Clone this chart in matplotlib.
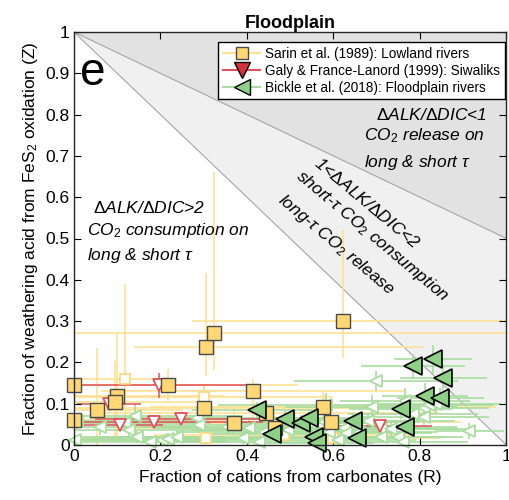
import matplotlib
matplotlib.use("Agg")
import matplotlib.pyplot as plt
from matplotlib.lines import Line2D
import numpy as np

plt.rcParams['font.family'] = ['Liberation Sans', 'DejaVu Sans']
plt.rcParams['mathtext.fontset'] = 'custom'
plt.rcParams['mathtext.rm'] = 'Liberation Sans'
plt.rcParams['mathtext.it'] = 'Liberation Sans:italic'

# Sarin et al. (1989), filled squares
sarin_R = [0.0, 0.0, 0.053, 0.10, 0.095, 0.218, 0.30, 0.306, 0.323, 0.622, 0.413, 0.371, 0.445, 0.464, 0.575, 0.594]
sarin_Z = [0.145, 0.06, 0.085, 0.119, 0.104, 0.145, 0.09, 0.237, 0.272, 0.30, 0.131, 0.053, 0.078, 0.041, 0.093, 0.056]
sarin_Rlo = [0.0, 0.0, 0.053, 0.10, 0.095, 0.22, 0.30, 0.166, 0.323, 0.35, 0.35, 0.37, 0.40, 0.35, 0.40, 0.30]
sarin_Rhi = [0.30, 0.35, 0.20, 0.25, 0.20, 0.30, 0.35, 0.50, 0.68, 0.38, 0.35, 0.35, 0.40, 0.35, 0.40, 0.30]
sarin_Zlo = [0.145, 0.05, 0.085, 0.10, 0.10, 0.04, 0.055, 0.07, 0.09, 0.09, 0.131, 0.04, 0.03, 0.03, 0.04, 0.03]
sarin_Zhi = [0.48, 0.05, 0.15, 0.15, 0.10, 0.04, 0.055, 0.18, 0.39, 0.22, 0.03, 0.04, 0.03, 0.03, 0.04, 0.03]

# Sarin et al. (1989), open squares
sarin2_R = [0.118, 0.30, 0.306, 0.598, 0.485]
sarin2_Z = [0.16, 0.116, 0.017, 0.017, 0.024]
sarin2_Rerr = [0.12, 0.30, 0.30, 0.25, 0.30]
sarin2_Zlo = [0.10, 0.03, 0.015, 0.015, 0.02]
sarin2_Zhi = [0.23, 0.03, 0.015, 0.015, 0.02]

# Galy & France-Lanord (1999)
galy_R = [0.081, 0.197, 0.107, 0.186, 0.248, 0.708]
galy_Z = [0.10, 0.145, 0.048, 0.056, 0.063, 0.046]
galy_Rlo = [0.075, 0.20, 0.10, 0.186, 0.20, 0.12]
galy_Rhi = [0.075, 0.20, 0.10, 0.25, 0.20, 0.12]
galy_Zerr = [0.015, 0.03, 0.01, 0.01, 0.01, 0.01]

# Bickle et al. (2018), filled triangles
bick_R = [0.831, 0.784, 0.854, 0.812, 0.847, 0.756, 0.766, 0.487, 0.524, 0.543, 0.645, 0.654, 0.555, 0.563, 0.424, 0.459]
bick_Z = [0.208, 0.191, 0.162, 0.119, 0.114, 0.087, 0.044, 0.063, 0.053, 0.065, 0.058, 0.017, 0.019, 0.005, 0.085, 0.027]
bick_Rerr = [0.09, 0.12, 0.10, 0.10, 0.10, 0.12, 0.12, 0.15, 0.15, 0.14, 0.13, 0.12, 0.14, 0.13, 0.15, 0.14]
bick_Zerr = [0.035, 0.03, 0.03, 0.03, 0.025, 0.025, 0.02, 0.02, 0.02, 0.02, 0.02, 0.015, 0.015, 0.01, 0.02, 0.015]

# Bickle et al. (2018), open triangles
bick2_R = [0.007, 0.142, 0.06, 0.118, 0.128, 0.002, 0.146, 0.176, 0.204, 0.218, 0.239, 0.285, 0.29,
           0.355, 0.404, 0.392, 0.427, 0.439, 0.494, 0.582, 0.578, 0.589, 0.61, 0.624,
           0.698, 0.689, 0.766, 0.784, 0.81, 0.821, 0.837, 0.81, 0.914, 0.68, 0.71, 0.733,
           0.749, 0.761, 0.629, 0.659, 0.71]
bick2_Z = [0.058, 0.07, 0.044, 0.053, 0.036, 0.012, 0.02, 0.007, 0.012, 0.014, 0.019, 0.065, 0.048,
           0.044, 0.041, 0.017, 0.007, 0.031, 0.036, 0.097, 0.056, 0.031, 0.012, 0.041,
           0.155, 0.092, 0.107, 0.075, 0.09, 0.097, 0.099, 0.068, 0.034, 0.058, 0.039, 0.039,
           0.019, 0.007, 0.029, 0.031, 0.019]
bick2_Rerr = [0.30, 0.25, 0.25, 0.20, 0.22, 0.35, 0.20, 0.18, 0.22, 0.20, 0.20, 0.25, 0.22,
              0.20, 0.22, 0.20, 0.18, 0.20, 0.22, 0.25, 0.22, 0.20, 0.18, 0.20,
              0.19, 0.20, 0.15, 0.15, 0.15, 0.15, 0.15, 0.15, 0.08, 0.20, 0.18, 0.18,
              0.15, 0.15, 0.20, 0.18, 0.15]
bick2_Zerr = [0.02, 0.03, 0.02, 0.02, 0.02, 0.012, 0.015, 0.007, 0.012, 0.014, 0.015, 0.03, 0.02,
              0.02, 0.02, 0.015, 0.007, 0.02, 0.02, 0.03, 0.02, 0.02, 0.012, 0.02,
              0.025, 0.03, 0.03, 0.025, 0.025, 0.025, 0.025, 0.02, 0.02, 0.02, 0.02, 0.02,
              0.015, 0.007, 0.02, 0.02, 0.015]

xticks = [0, 0.2, 0.4, 0.6, 0.8, 1]
xlabels = ['0', '0.2', '0.4', '0.6', '0.8', '1']
yticks = [0, 0.1, 0.2, 0.3, 0.4, 0.5, 0.6, 0.7, 0.8, 0.9, 1]
ylabels = ['0', '0.1', '0.2', '0.3', '0.4', '0.5', '0.6', '0.7', '0.8', '0.9', '1']

yel_line = '#FFE194'
yel_fill = '#FFD775'
grn_line = '#A9DDA0'
grn_fill = '#8FD087'
red_line = '#E0505C'
red_fill = '#D8303F'

fig = plt.figure(figsize=(5.1, 5.0), dpi=100)
ax = fig.add_axes([0.145, 0.11, 0.848, 0.826])

# regions: ALK/DIC ratio boundaries
Rb = np.array([0.0, 1.0])
ax.fill_between(Rb, 1 - Rb / 2, 1, color='#E2E2E2', lw=0, zorder=0)
ax.fill_between(Rb, 1 - Rb, 1 - Rb / 2, color='#F0F0F0', lw=0, zorder=0)
ax.plot(Rb, 1 - Rb / 2, color='#A5A5A5', lw=0.8, zorder=0.5)
ax.plot(Rb, 1 - Rb, color='#A5A5A5', lw=0.8, zorder=0.5)

# error bars
ax.errorbar(sarin_R, sarin_Z, xerr=[sarin_Rlo, sarin_Rhi], yerr=[sarin_Zlo, sarin_Zhi],
            fmt='none', ecolor=yel_line, elinewidth=1.2, zorder=1)
ax.errorbar(sarin2_R, sarin2_Z, xerr=sarin2_Rerr, yerr=[sarin2_Zlo, sarin2_Zhi],
            fmt='none', ecolor=yel_line, elinewidth=1.2, zorder=1)
ax.errorbar(bick2_R, bick2_Z, xerr=bick2_Rerr, yerr=bick2_Zerr,
            fmt='none', ecolor=grn_line, elinewidth=1.2, zorder=1.2)
ax.errorbar(bick_R, bick_Z, xerr=bick_Rerr, yerr=bick_Zerr,
            fmt='none', ecolor=grn_line, elinewidth=1.2, zorder=1.2)
ax.errorbar(galy_R, galy_Z, xerr=[galy_Rlo, galy_Rhi], yerr=galy_Zerr,
            fmt='none', ecolor=red_line, elinewidth=1.1, zorder=1.3)

# markers
ax.plot(sarin2_R, sarin2_Z, 's', ms=7, mfc='white', mec=yel_fill, mew=1.2, zorder=2, clip_on=False)
ax.plot(bick2_R, bick2_Z, '<', ms=9, mfc='white', mec=grn_line, mew=1.3, zorder=2, clip_on=False)
ax.plot(galy_R, galy_Z, 'v', ms=9, mfc='white', mec=red_line, mew=1.3, zorder=2.1, clip_on=False)
ax.plot(sarin_R, sarin_Z, 's', ms=10, mfc=yel_fill, mec='#4A4A4A', mew=1.0, zorder=3, clip_on=False)
ax.plot(bick_R, bick_Z, '<', ms=13, mfc=grn_fill, mec='black', mew=1.2, zorder=3, clip_on=False)

# annotations
fs = 12.5
ax.text(0.045, 0.575, r'$\Delta$ALK/$\Delta$DIC>2', style='italic', fontsize=fs, va='center')
ax.text(0.03, 0.52, r'CO$_2$ consumption on', style='italic', fontsize=fs, va='center')
ax.text(0.03, 0.458, r'long & short $\tau$', style='italic', fontsize=fs, va='center')
ax.text(0.955, 0.80, r'$\Delta$ALK/$\Delta$DIC<1', style='italic', fontsize=fs, va='center', ha='right')
ax.text(0.67, 0.75, r'CO$_2$ release on', style='italic', fontsize=fs, va='center')
ax.text(0.67, 0.685, r'long & short $\tau$', style='italic', fontsize=fs, va='center')
ax.text(0.678, 0.585, r'1<$\Delta$ALK/$\Delta$DIC<2', style='italic', fontsize=fs, rotation=-40,
        ha='center', va='center', rotation_mode='anchor')
ax.text(0.69, 0.505, r'short-$\tau$ CO$_2$ consumption', style='italic', fontsize=fs, rotation=-40,
        ha='center', va='center', rotation_mode='anchor')
ax.text(0.607, 0.484, r'long-$\tau$ CO$_2$ release', style='italic', fontsize=fs, rotation=-40,
        ha='center', va='center', rotation_mode='anchor')
ax.text(0.013, 0.9, 'e', fontsize=33, va='center')

handles = [
    Line2D([], [], color=yel_line, lw=1.5, marker='s', ms=8, mfc=yel_fill, mec='#4A4A4A'),
    Line2D([], [], color=red_line, lw=1.5, marker='v', ms=11, mfc=red_fill, mec='black'),
    Line2D([], [], color=grn_line, lw=1.5, marker='<', ms=11, mfc=grn_fill, mec='black'),
]
leg = ax.legend(handles, ['Sarin et al. (1989): Lowland rivers',
                          'Galy & France-Lanord (1999): Siwaliks',
                          'Bickle et al. (2018): Floodplain rivers'],
                loc='upper right', bbox_to_anchor=(0.997, 0.975), fontsize=9.8, fancybox=False,
                framealpha=1, edgecolor='black', handlelength=2.7, handletextpad=0.4,
                borderpad=0.35, labelspacing=0.2, borderaxespad=0)
leg.get_frame().set_linewidth(1.0)
leg.set_zorder(5)

ax.set_xlim(0, 1)
ax.set_ylim(0, 1)
ax.set_xticks(xticks)
ax.set_xticklabels(xlabels)
ax.set_yticks(yticks)
ax.set_yticklabels(ylabels)
ax.tick_params(direction='in', top=True, right=True, length=5, labelsize=12.5, pad=3)
for s in ax.spines.values():
    s.set_linewidth(1.0)
    s.set_color('#262626')
    s.set_zorder(6)
ax.set_xlabel('Fraction of cations from carbonates (R)', fontsize=12.5, labelpad=4)
ax.set_ylabel(r'Fraction of weathering acid from FeS$_2$ oxidation (Z)', fontsize=12.5, labelpad=4)
ax.set_title('Floodplain', fontsize=13, fontweight='bold', pad=3)

fig.savefig('out.png', dpi=100)
